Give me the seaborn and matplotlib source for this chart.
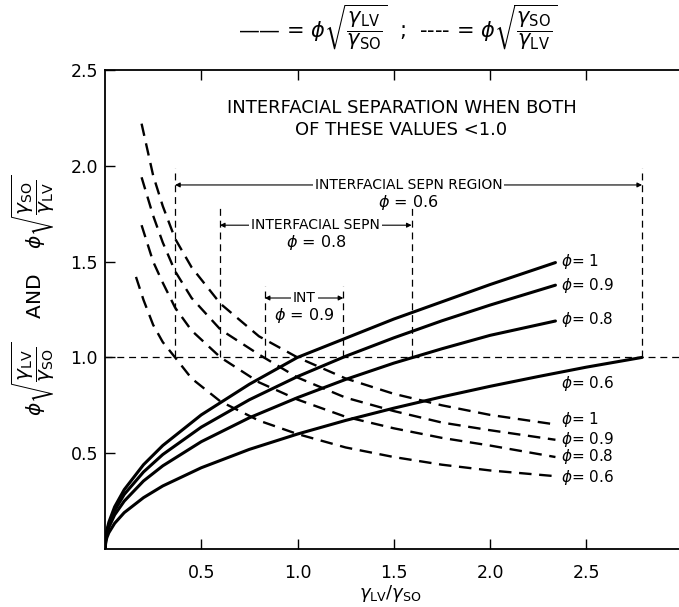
import matplotlib
matplotlib.use("Agg")
import matplotlib.pyplot as plt
import seaborn as sns

# ---- data ----
phi_labels = ["1", "0.9", "0.8", "0.6"]

solid_x = [0, 0.005, 0.01, 0.02, 0.05, 0.1, 0.2, 0.3, 0.5, 0.75, 1.0, 1.25, 1.5, 1.75, 2.0, 2.34]
solid_y_phi1 = [0, 0.07, 0.10, 0.14, 0.22, 0.31, 0.44, 0.54, 0.70, 0.86, 1.00, 1.10, 1.20, 1.29, 1.38, 1.495]
solid_y_phi09 = [0, 0.064, 0.09, 0.127, 0.201, 0.285, 0.402, 0.493, 0.636, 0.779, 0.90, 1.006, 1.102, 1.191, 1.273, 1.377]
solid_y_phi08 = [0, 0.057, 0.08, 0.113, 0.178, 0.25, 0.355, 0.434, 0.56, 0.685, 0.79, 0.885, 0.97, 1.045, 1.115, 1.19]
solid_x_phi06 = [0, 0.005, 0.01, 0.02, 0.05, 0.1, 0.2, 0.3, 0.5, 0.75, 1.0, 1.25, 1.5, 1.75, 2.0, 2.25, 2.5, 2.79]
solid_y_phi06 = [0, 0.042, 0.06, 0.085, 0.134, 0.19, 0.268, 0.329, 0.424, 0.52, 0.60, 0.671, 0.735, 0.794, 0.849, 0.90, 0.949, 1.00]

dashed_x = [0.19, 0.25, 0.3, 0.364, 0.45, 0.6, 0.8, 1.0, 1.25, 1.5, 1.75, 2.0, 2.34]
dashed_y_phi1 = [2.22, 1.95, 1.79, 1.62, 1.47, 1.28, 1.11, 1.00, 0.89, 0.81, 0.75, 0.70, 0.65]
dashed_y_phi09 = [1.94, 1.74, 1.60, 1.45, 1.31, 1.145, 1.015, 0.895, 0.79, 0.72, 0.66, 0.62, 0.57]
dashed_y_phi08 = [1.69, 1.50, 1.39, 1.26, 1.14, 1.00, 0.87, 0.78, 0.69, 0.63, 0.58, 0.54, 0.48]
dashed_x_phi06 = [0.161, 0.2, 0.25, 0.3, 0.364, 0.45, 0.6, 0.8, 1.0, 1.25, 1.5, 1.75, 2.0, 2.34]
dashed_y_phi06 = [1.42, 1.30, 1.17, 1.08, 1.00, 0.89, 0.77, 0.67, 0.60, 0.53, 0.48, 0.44, 0.41, 0.38]

# separation regions (phi, left bound, right bound, top of markers, arrow level)
region_phi = ["0.6", "0.8", "0.9"]
region_left = [0.364, 0.597, 0.83]
region_right = [2.79, 1.593, 1.238]
region_top = [1.99, 1.79, 1.375]
region_arrow_y = [1.90, 1.69, 1.31]
region_text = ["INTERFACIAL SEPN REGION", "INTERFACIAL SEPN", "INT"]

tick_values = [0.5, 1.0, 1.5, 2.0, 2.5]
tick_labels = ["0.5", "1.0", "1.5", "2.0", "2.5"]

# label positions at the ends of the curves
solid_label_y = [1.50, 1.375, 1.20, 0.865]
dashed_label_y = [0.677, 0.573, 0.484, 0.375]

# ---- style ----
sns.set_style("ticks")
plt.rcParams["font.family"] = ["DejaVu Sans"]
plt.rcParams["mathtext.fontset"] = "dejavusans"
plt.rcParams["lines.scale_dashes"] = False
plt.rcParams["text.color"] = "black"
plt.rcParams["axes.labelcolor"] = "black"

W, H = 679, 607
fig = plt.figure(figsize=(W / 100, H / 100), dpi=100)
ax = fig.add_axes([105 / W, 1 - 549 / H, 577.5 / W, 479 / H])

# dashed curves
for xs, ys in [(dashed_x, dashed_y_phi1), (dashed_x, dashed_y_phi09),
               (dashed_x, dashed_y_phi08), (dashed_x_phi06, dashed_y_phi06)]:
    sns.lineplot(x=xs, y=ys, ax=ax, color="black", linewidth=1.7,
                 estimator=None, sort=False)
    ax.lines[-1].set_linestyle((0, (9, 5.5)))

# solid curves
for xs, ys in [(solid_x, solid_y_phi1), (solid_x, solid_y_phi09),
               (solid_x, solid_y_phi08), (solid_x_phi06, solid_y_phi06)]:
    sns.lineplot(x=xs, y=ys, ax=ax, color="black", linewidth=2.2,
                 estimator=None, sort=False)

# reference line at 1.0
ax.axhline(1.0, color="black", linewidth=0.9, linestyle=(0, (5, 3.5)))

# regions
for ph, xl, xr, yt, ya, txt in zip(region_phi, region_left, region_right,
                                   region_top, region_arrow_y, region_text):
    for xv in (xl, xr):
        ax.plot([xv, xv], [1.0, yt], color="black", linewidth=0.9,
                linestyle=(0, (5, 3.5)))
    ax.annotate("", xy=(xl, ya), xytext=(xr, ya),
                arrowprops=dict(arrowstyle="<|-|>", color="black", lw=0.8,
                                mutation_scale=7, shrinkA=0, shrinkB=0))
    xc = (xl + xr) / 2
    ax.text(xc, ya, txt, ha="center", va="center", fontsize=10,
            bbox=dict(facecolor="white", edgecolor="none", pad=1.5))
    ax.text(xc, ya - 0.09, r"$\phi$ = " + ph, ha="center", va="center",
            fontsize=11.5)

ax.text(1.54, 2.245, "INTERFACIAL SEPARATION WHEN BOTH\nOF THESE VALUES <1.0",
        ha="center", va="center", fontsize=13, linespacing=1.3)

for lab, ys in zip(phi_labels, solid_label_y):
    ax.text(2.37, ys, r"$\phi$" + "= " + lab, ha="left", va="center", fontsize=11)
for lab, ys in zip(phi_labels, dashed_label_y):
    ax.text(2.37, ys, r"$\phi$" + "= " + lab, ha="left", va="center", fontsize=11)

ax.set_xlim(0, 3.0)
ax.set_ylim(0, 2.5)
ax.set_xticks(tick_values, tick_labels)
ax.set_yticks(tick_values, tick_labels)
ax.tick_params(axis="both", direction="in", length=7, width=1.0,
               labelsize=12.5, colors="black")
ax.tick_params(axis="x", top=True, pad=11)
ax.tick_params(axis="y", pad=5)
ax.spines["right"].set_visible(False)
for s in ("left", "bottom", "top"):
    ax.spines[s].set_linewidth(1.3)
    ax.spines[s].set_color("black")
ax.set_xlabel("")
ax.set_ylabel("")

fig.text(390 / W, 1 - 594 / H, r"$\gamma_{\mathrm{LV}}/\gamma_{\mathrm{SO}}$",
         ha="center", va="center", fontsize=13)

frac_lv_so = r"$\phi\sqrt{\dfrac{\gamma_{\mathrm{LV}}}{\gamma_{\mathrm{SO}}}}$"
frac_so_lv = r"$\phi\sqrt{\dfrac{\gamma_{\mathrm{SO}}}{\gamma_{\mathrm{LV}}}}$"

fig.text(33 / W, 1 - 295 / H, frac_lv_so + "    AND    " + frac_so_lv,
         rotation=90, ha="center", va="center", fontsize=14.5)

fig.text(398 / W, 1 - 27 / H,
         "—— = " + frac_lv_so + "  ;  ---- = " + frac_so_lv,
         ha="center", va="center", fontsize=15)

fig.savefig("out.png", dpi=100, facecolor="white")
